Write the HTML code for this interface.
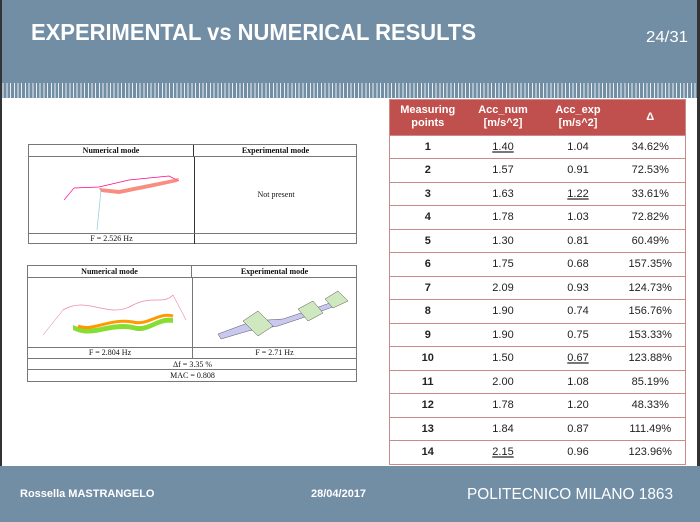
<!DOCTYPE html>
<html><head><meta charset="utf-8"><style>
*{margin:0;padding:0;box-sizing:border-box}
body{width:700px;height:522px;position:relative;background:#fff;font-family:"Liberation Sans",sans-serif;overflow:hidden}
.top{position:absolute;left:0;top:0;width:700px;height:83px;background:#728ea5}
.ticks{position:absolute;left:0;top:83px;width:700px;height:15px;background:repeating-linear-gradient(90deg,#728ea5 0,#728ea5 2.7px,#e8eef3 2.7px,#e8eef3 3.7px)}
.foot{position:absolute;left:0;top:466px;width:700px;height:56px;background:#728ea5}
.lb{position:absolute;left:0;top:0;width:2px;height:466px;background:#333}
.rb{position:absolute;right:0;top:0;width:3px;height:466px;background:#333}
table.d{position:absolute;left:389px;top:99px;width:297px;border-collapse:collapse;font-size:11px;color:#222;text-align:center}
table.d th{background:#c0504d;color:#fff;font-weight:bold;height:35.5px;line-height:13px;font-size:11px}
table.d td{height:23.5px;border-top:1px solid #c98a89;border-bottom:1px solid #c98a89}
table.d{border:1px solid #c98a89}
table.d td:first-child{font-weight:bold}
u{text-decoration:underline;text-decoration-color:#777;text-decoration-thickness:2px}
.m{position:absolute;border:1px solid #777;font-family:"Liberation Serif",serif;font-size:8px;color:#111}
.m div{position:absolute;text-align:center}
</style></head><body>
<div class="top"></div><div class="ticks"></div><div class="foot"></div>
<div class="lb"></div><div class="rb"></div>
<svg style="position:absolute;left:0;top:0" width="700" height="60">
<text x="31" y="40" fill="#fff" font-family="Liberation Sans" font-weight="bold" font-size="23" textLength="445" lengthAdjust="spacingAndGlyphs">EXPERIMENTAL vs NUMERICAL RESULTS</text>
<text x="646" y="42" fill="#fff" font-family="Liberation Sans" font-size="16" textLength="42" lengthAdjust="spacingAndGlyphs">24/31</text>
</svg>
<svg style="position:absolute;left:0;top:480" width="700" height="30">
<text x="20" y="17" fill="#fff" font-family="Liberation Sans" font-weight="bold" font-size="11">Rossella MASTRANGELO</text>
<text x="311" y="17" fill="#fff" font-family="Liberation Sans" font-weight="bold" font-size="11">28/04/2017</text>
<text x="467" y="19" fill="#fff" font-family="Liberation Sans" font-size="16" textLength="206" lengthAdjust="spacingAndGlyphs">POLITECNICO MILANO 1863</text>
</svg>

<!-- mode table 1 -->
<div class="m" style="left:28px;top:144px;width:329px;height:100px">
<div style="left:0;top:0;width:165px;height:12px;border-bottom:1px solid #777;border-right:1px solid #333;font-weight:bold;line-height:12px">Numerical mode</div>
<div style="left:165px;top:0;width:163px;height:12px;border-bottom:1px solid #777;font-weight:bold;line-height:12px">Experimental mode</div>
<div style="left:165px;top:12px;width:1px;height:87px;background:#333"></div>
<div style="left:166px;top:45px;width:162px">Not present</div>
<div style="left:0;top:88px;width:328px;height:1px;background:#777"></div>
<div style="left:0;top:89px;width:165px;line-height:10px">F = 2.526 Hz</div>
<svg style="position:absolute;left:30px;top:15px" width="120" height="70">
<polyline points="15,28 40,27 70,20 110,16 128,25" fill="none" stroke="#f08" stroke-width="0.7"/>
<path d="M40,28 L60,30 L90,24 L120,18 L118,22 L90,28 L60,34 L42,32Z" fill="#f87060" opacity="0.8"/>
<line x1="42" y1="30" x2="38" y2="70" stroke="#8cd" stroke-width="0.7"/>
<line x1="15" y1="28" x2="5" y2="40" stroke="#f08" stroke-width="0.6"/>
</svg>
</div>

<!-- mode table 2 -->
<div class="m" style="left:27px;top:265px;width:330px;height:117px">
<div style="left:0;top:0;width:164px;height:12px;border-bottom:1px solid #777;border-right:1px solid #777;font-weight:bold;line-height:12px">Numerical mode</div>
<div style="left:164px;top:0;width:165px;height:12px;border-bottom:1px solid #777;font-weight:bold;line-height:12px">Experimental mode</div>
<div style="left:164px;top:12px;width:1px;height:80px;background:#777"></div>
<div style="left:0;top:81px;width:329px;height:1px;background:#777"></div>
<div style="left:0;top:81px;width:164px;line-height:11px">F = 2.804 Hz</div>
<div style="left:164px;top:81px;width:165px;line-height:11px">F = 2.71 Hz</div>
<div style="left:0;top:92px;width:329px;height:12px;border-top:1px solid #777;border-bottom:1px solid #777;line-height:11px">Δf = 3.35 %</div>
<div style="left:0;top:104px;width:329px;line-height:11px">MAC = 0.808</div>
<svg style="position:absolute;left:10px;top:14px" width="150" height="65">
<path d="M25,30 C50,15 70,40 95,25 C115,15 125,25 135,15" fill="none" stroke="#e8a" stroke-width="0.8"/>
<path d="M35,45 C55,55 70,40 95,45 C110,50 120,35 135,38 L135,43 C120,40 110,55 95,50 C70,45 55,60 35,50Z" fill="#8d3"/>
<path d="M40,46 C55,52 70,38 95,42 C110,46 120,32 135,36" fill="none" stroke="#f90" stroke-width="3"/>
<line x1="25" y1="30" x2="5" y2="55" stroke="#e8a" stroke-width="0.6"/>
<line x1="135" y1="15" x2="148" y2="40" stroke="#e8a" stroke-width="0.6"/>
</svg>
<svg style="position:absolute;left:185px;top:15px" width="135" height="65">
<path d="M5,53 L40,40 L70,38 L100,28 L128,18 L125,24 L95,35 L65,45 L35,50 L8,58Z" fill="#c8c8f0" stroke="#555" stroke-width="0.5"/>
<path d="M30,40 L45,30 L60,45 L45,55Z M85,28 L100,20 L110,32 L95,40Z M112,18 L125,10 L135,20 L120,27Z" fill="#cfe8c0" stroke="#555" stroke-width="0.5"/>
</svg>
</div>

<table class="d">
<tr><th style="width:76px">Measuring<br>points</th><th style="width:75px">Acc_num<br>[m/s^2]</th><th style="width:75px">Acc_exp<br>[m/s^2]</th><th>Δ</th></tr>
<tr><td>1</td><td><u>1.40</u></td><td>1.04</td><td>34.62%</td></tr>
<tr><td>2</td><td>1.57</td><td>0.91</td><td>72.53%</td></tr>
<tr><td>3</td><td>1.63</td><td><u>1.22</u></td><td>33.61%</td></tr>
<tr><td>4</td><td>1.78</td><td>1.03</td><td>72.82%</td></tr>
<tr><td>5</td><td>1.30</td><td>0.81</td><td>60.49%</td></tr>
<tr><td>6</td><td>1.75</td><td>0.68</td><td>157.35%</td></tr>
<tr><td>7</td><td>2.09</td><td>0.93</td><td>124.73%</td></tr>
<tr><td>8</td><td>1.90</td><td>0.74</td><td>156.76%</td></tr>
<tr><td>9</td><td>1.90</td><td>0.75</td><td>153.33%</td></tr>
<tr><td>10</td><td>1.50</td><td><u>0.67</u></td><td>123.88%</td></tr>
<tr><td>11</td><td>2.00</td><td>1.08</td><td>85.19%</td></tr>
<tr><td>12</td><td>1.78</td><td>1.20</td><td>48.33%</td></tr>
<tr><td>13</td><td>1.84</td><td>0.87</td><td>111.49%</td></tr>
<tr><td>14</td><td><u>2.15</u></td><td>0.96</td><td>123.96%</td></tr>
</table>
</body></html>
